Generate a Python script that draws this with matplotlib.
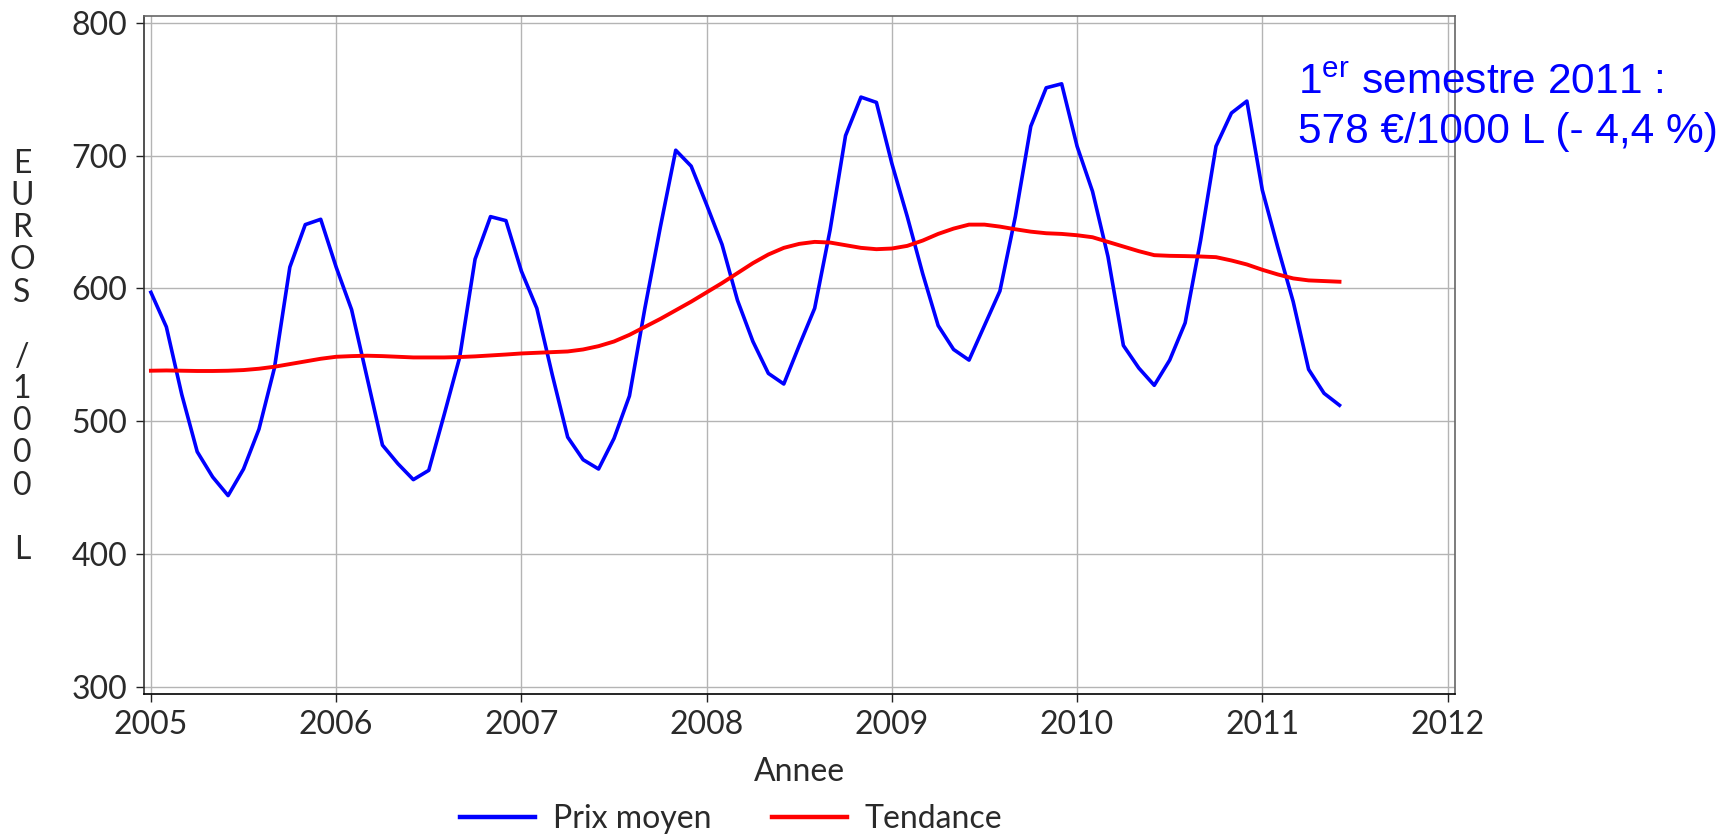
import matplotlib
matplotlib.use('Agg')
import matplotlib.pyplot as plt
import numpy as np

# mois de janvier 2005 a juin 2011
annees = [2005, 2006, 2007, 2008, 2009, 2010, 2011]
nb_mois = 78

prix_moyen = [
    597, 571, 520, 477, 458, 444, 464, 494, 540, 616, 648, 652,
    616, 584, 533, 482, 468, 456, 463, 505, 548, 622, 654, 651,
    613, 585, 535, 488, 471, 464, 487, 519, 585, 646, 704, 692,
    663, 633, 591, 560, 536, 528, 557, 585, 644, 715, 744, 740,
    694, 654, 611, 572, 554, 546, 572, 598, 654, 722, 751, 754,
    707, 673, 624, 557, 540, 527, 546, 574, 636, 707, 732, 741,
    674, 631, 590, 539, 521, 512,
]

tendance = [
    538, 538.2, 538, 537.8, 537.8, 538, 538.5, 539.5, 541, 543, 545, 547,
    548.5, 549, 549.3, 549, 548.5, 548, 548, 548, 548.3, 548.8, 549.5, 550.2,
    551, 551.5, 552, 552.5, 554, 556.5, 560, 565, 571, 577, 583.5, 590,
    597, 604, 611.5, 619, 625.5, 630.5, 633.5, 635, 634.5, 632.5, 630.5, 629.5,
    630, 632, 636, 641, 645, 648, 648, 646.5, 644.5, 642.7, 641.5, 641,
    640, 638.5, 635, 631.5, 628, 625, 624.5, 624.3, 624, 623.5, 621, 618,
    614, 610.5, 607.5, 606, 605.5, 605,
]

x_ticks = [2005, 2006, 2007, 2008, 2009, 2010, 2011, 2012]
y_ticks = [300, 400, 500, 600, 700, 800]

mois = 2005 + np.arange(nb_mois) / 12.0

police = 'Lato'
taille = 23
txt_col = '#2a2a2a'

fig = plt.figure(figsize=(17.29, 8.34), dpi=100)
ax = fig.add_axes([0.083, 0.168, 0.7585, 0.8132])

ax.plot(mois, prix_moyen, color='#0000ff', lw=2.6, label='Prix moyen')
ax.plot(mois, tendance, color='#ff0000', lw=2.8, label='Tendance')

ax.set_xlim(2004.96, 2012.04)
ax.set_ylim(294.7, 805.3)
ax.set_xticks(x_ticks)
ax.set_yticks(y_ticks)
ax.grid(True, color='#b4b4b4', lw=1.0)
ax.set_axisbelow(True)

for lab in ax.get_xticklabels() + ax.get_yticklabels():
    lab.set_fontfamily(police)
    lab.set_fontsize(taille)
    lab.set_color(txt_col)
ax.tick_params(length=5.5, width=1, color='#222222')
ax.tick_params(axis='y', pad=6)
ax.tick_params(axis='x', pad=6)

ax.spines['bottom'].set_color('black')
ax.spines['left'].set_color('#333333')
ax.spines['top'].set_color('#666666')
ax.spines['right'].set_color('#666666')
for s in ax.spines.values():
    s.set_linewidth(1.2)

ax.set_xlabel('Annee', fontfamily=police, fontsize=taille,
              color=txt_col, labelpad=12)

fig.text(22 / 1729, 0.572, 'E\nU\nR\nO\nS\n\n/\n1\n0\n0\n0\n\nL',
         ha='center', va='center', fontfamily=police,
         fontsize=taille, color=txt_col, linespacing=1.09)

plt.rcParams['mathtext.fontset'] = 'custom'
plt.rcParams['mathtext.rm'] = 'Liberation Sans'
fig.text(1298 / 1729, 1 - 94 / 834, '1$^{\\mathrm{er}}$ semestre 2011 :',
         ha='left', va='baseline', fontfamily='Liberation Sans',
         fontsize=30.5, color='#0000ff')
fig.text(1298 / 1729, 1 - 143 / 834, '578 €/1000 L (- 4,4 %)',
         ha='left', va='baseline', fontfamily='Liberation Sans',
         fontsize=30.5, color='#0000ff')

leg = fig.legend(loc='center', bbox_to_anchor=(731 / 1729, 1 - 819 / 834),
                 ncol=2, frameon=False, handlelength=2.35, handletextpad=0.55,
                 columnspacing=1.9, prop={'family': police, 'size': taille})
for t in leg.get_texts():
    t.set_color(txt_col)
for h in leg.get_lines():
    h.set_linewidth(3.2)

fig.savefig('out.png', dpi=100)
